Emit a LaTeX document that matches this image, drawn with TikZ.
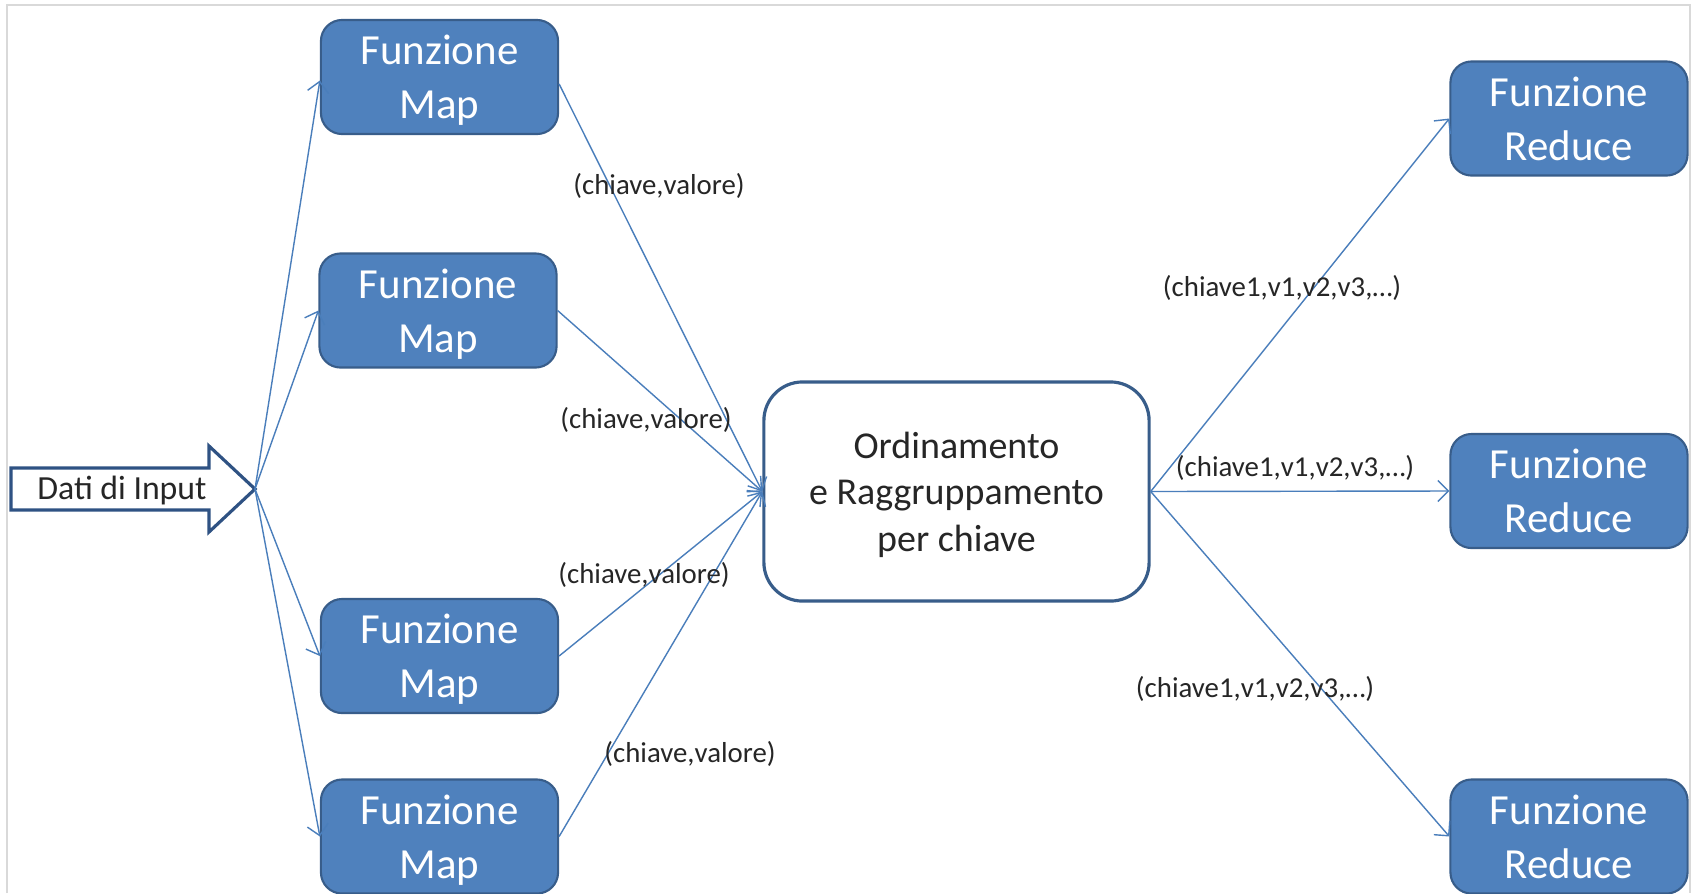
\documentclass[tikz,border=0pt]{standalone}
\usepackage{fontspec}
\setmainfont{Carlito}
\usetikzlibrary{arrows.meta}
\definecolor{boxfill}{HTML}{4F81BD}
\definecolor{boxedge}{HTML}{385D8A}
\definecolor{arrowedge}{HTML}{2F5283}
\definecolor{linkblue}{HTML}{4A7EBB}
\definecolor{framegray}{HTML}{D9D9D9}
\definecolor{inkgray}{HTML}{262626}
\begin{document}
\begin{tikzpicture}[x=0.01cm,y=-0.01cm,
  funcbox/.style={draw=boxedge, line width=0.6pt, fill=boxfill, rounded corners=6pt,
    minimum width=2.37cm, minimum height=1.14cm, inner sep=0pt, text depth=0pt,
    text=white, align=center, font=\fontsize{12.2}{15.4}\selectfont},
  sortbox/.style={draw=boxedge, line width=0.9pt, fill=white, rounded corners=11pt,
    minimum width=3.85cm, minimum height=2.19cm, inner sep=0pt, text depth=0pt,
    align=center, text=inkgray, font=\fontsize{10.8}{13.2}\selectfont},
  link/.style={draw=linkblue, line width=0.4pt, -{Straight Barb[length=3pt,width=6pt]}},
  kv/.style={font=\fontsize{8.2}{10}\selectfont, text=inkgray, inner sep=0pt},
  intext/.style={font=\fontsize{9.6}{11}\selectfont, text=inkgray, inner sep=0pt}
]
\clip (0,0) rectangle (1696,893);
\fill[white] (0,0) rectangle (1696,893);

% page frame
\draw[framegray, line width=0.6pt] (7,893) -- (7,5) -- (1690,5) -- (1690,893);

% input block arrow
\draw[arrowedge, line width=0.9pt, fill=white, line join=miter]
  (11,468) -- (209,468) -- (209,446) -- (255,489) -- (209,532) -- (209,510) -- (11,510) -- cycle;
\coordinate (inTip) at (255,489);
\node[intext] (inText) at (122,490) {Dati di Input};

% map functions
\node[funcbox] (m1) at (439.5,77)    {Funzione\\Map};
\node[funcbox] (m2) at (438,310.5)   {Funzione\\Map};
\node[funcbox] (m3) at (439.5,656)   {Funzione\\Map};
\node[funcbox] (m4) at (439.5,836.5) {Funzione\\Map};

% sort and group
\node[sortbox] (sort) at (956.5,491.5) {Ordinamento\\e Raggruppamento\\per chiave};

% reduce functions
\node[funcbox] (r1) at (1569,118.5) {Funzione\\Reduce};
\node[funcbox] (r2) at (1569,491)   {Funzione\\Reduce};
\node[funcbox] (r3) at (1569,836.5) {Funzione\\Reduce};

% input to maps
\draw[link] (inTip) -- ([yshift=-1pt]m1.west);
\draw[link] (inTip) -- (m2.west);
\draw[link] (inTip) -- (m3.west);
\draw[link] (inTip) -- (m4.west);

% maps to sort
\draw[link] ([yshift=-2pt]m1.east) -- (sort.west);
\draw[link] (m2.east) -- (sort.west);
\draw[link] (m3.east) -- (sort.west);
\draw[link] (m4.east) -- (sort.west);

% sort to reduces
\draw[link] (sort.east) -- (r1.west);
\draw[link] (sort.east) -- (r2.west);
\draw[link] (sort.east) -- (r3.west);

% pair labels
\node[kv] (kv1) at (659,186) {(chiave,valore)};
\node[kv] (kv2) at (646,420) {(chiave,valore)};
\node[kv] (kv3) at (644,575) {(chiave,valore)};
\node[kv] (kv4) at (690,754) {(chiave,valore)};
\node[kv] (gr1) at (1282,288) {(chiave1,v1,v2,v3,…)};
\node[kv] (gr2) at (1295,468) {(chiave1,v1,v2,v3,…)};
\node[kv] (gr3) at (1255,689) {(chiave1,v1,v2,v3,…)};
\end{tikzpicture}
\end{document}
